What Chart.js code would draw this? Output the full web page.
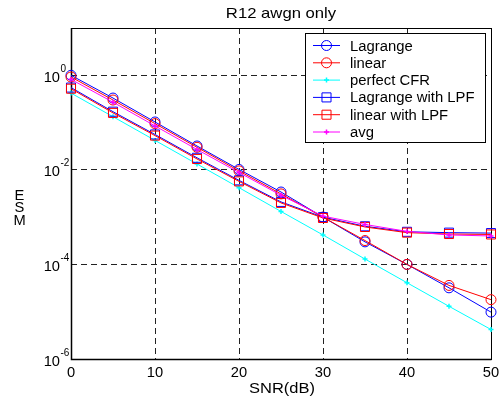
<!DOCTYPE html>
<html><head><meta charset="utf-8">
<script src="https://cdn.jsdelivr.net/npm/chart.js@4/dist/chart.umd.min.js"></script>
<style>html,body{margin:0;padding:0;background:#fff}#wrap{width:502px;height:404px;position:relative}</style>
</head><body><div id="wrap"><canvas id="c" width="502" height="404"></canvas></div>
<script>
const snr = [0, 5, 10, 15, 20, 25, 30, 35, 40, 45, 50];
const lagrange = [1.0, 0.33, 0.103, 0.032, 0.0102, 0.0034, 1.0e-3, 3.0e-4, 1.0e-4, 3.2e-5, 9.8e-6];
const linear = [0.92, 0.30, 0.095, 0.030, 0.0095, 0.0031, 1.0e-3, 3.2e-4, 1.0e-4, 3.6e-5, 1.8e-5];
const perfectCFR = [0.42, 0.133, 0.042, 0.0133, 0.0042, 0.00132, 4.2e-4, 1.3e-4, 4.1e-5, 1.3e-5, 4.2e-6];
const lagrangeLPF = [0.55, 0.17, 0.056, 0.018, 0.006, 0.0021, 1.0e-3, 6.4e-4, 4.9e-4, 4.7e-4, 4.6e-4];
const linearLPF = [0.52, 0.16, 0.053, 0.017, 0.0057, 0.0020, 9.6e-4, 6.2e-4, 4.7e-4, 4.4e-4, 4.3e-4];
const avg = [0.82, 0.27, 0.085, 0.027, 0.0088, 0.0029, 1.05e-3, 7.0e-4, 5.0e-4, 4.2e-4, 4.0e-4];
const seriesNames = ['Lagrange', 'linear', 'perfect CFR', 'Lagrange with LPF', 'linear with LPF', 'avg'];
const xTicks = [0, 10, 20, 30, 40, 50];
const yTicks = [1e-6, 1e-4, 1e-2, 1];
const yTickExp = ['-6', '-4', '-2', '0'];
const titleText = 'R12 awgn only';
const xTitle = 'SNR(dB)';
const yTitleLetters = ['E', 'S', 'M'];

const FONT = '"Liberation Sans", Arial, Helvetica, sans-serif';
const styles = [
  {color: '#0000ff', point: 'circle', r: 5},
  {color: '#ff0000', point: 'circle', r: 5},
  {color: '#00ffff', point: 'cross', r: 2.5},
  {color: '#0000ff', point: 'rect', r: 6.4},
  {color: '#ff0000', point: 'rect', r: 6.4},
  {color: '#ff00ff', point: 'cross', r: 2.5}
];
const allSeries = [lagrange, linear, perfectCFR, lagrangeLPF, linearLPF, avg];

const datasets = allSeries.map((arr, i) => ({
  label: seriesNames[i],
  data: snr.map((x, k) => ({x: x, y: arr[k]})),
  borderColor: styles[i].color,
  backgroundColor: 'rgba(0,0,0,0)',
  borderWidth: 1,
  pointStyle: styles[i].point,
  pointRadius: styles[i].r,
  pointHoverRadius: styles[i].r,
  pointBorderColor: styles[i].color,
  pointBackgroundColor: 'rgba(0,0,0,0)',
  pointBorderWidth: styles[i].point === 'cross' ? 1.5 : 1,
  tension: 0,
  clip: false,
  order: 6 - i
}));

function drawMarker(ctx, st, x, y) {
  ctx.save();
  ctx.strokeStyle = st.color;
  ctx.lineWidth = st.point === 'cross' ? 1.5 : 1;
  ctx.beginPath();
  if (st.point === 'circle') {
    ctx.arc(x, y, st.r, 0, Math.PI * 2);
  } else if (st.point === 'rect') {
    const s = Math.SQRT1_2 * st.r;
    ctx.rect(x - s, y - s, 2 * s, 2 * s);
  } else {
    ctx.moveTo(x - st.r, y); ctx.lineTo(x + st.r, y);
    ctx.moveTo(x, y - st.r); ctx.lineTo(x, y + st.r);
  }
  ctx.stroke();
  ctx.restore();
}

function text(ctx, str, x, y, size, align, sx) {
  ctx.save();
  ctx.font = size + 'px ' + FONT;
  ctx.textAlign = align;
  ctx.textBaseline = 'alphabetic';
  ctx.translate(x, y);
  ctx.scale(sx, 1);
  ctx.fillText(str, 0, 0);
  ctx.restore();
}

const decor = {
  id: 'decor',
  beforeDatasetsDraw(chart) {
    const {ctx, chartArea: a} = chart;
    ctx.save();
    ctx.strokeStyle = '#000';
    ctx.lineWidth = 1;
    ctx.strokeRect(a.left + 0.5, a.top + 0.5, a.right - a.left, a.bottom - a.top);
    ctx.lineWidth = 1.5;
    ctx.beginPath();
    ctx.moveTo(a.left + 0.5, a.top);
    ctx.lineTo(a.left + 0.5, a.bottom + 0.5);
    ctx.lineTo(a.right + 0.5, a.bottom + 0.5);
    ctx.stroke();
    ctx.restore();
  },
  afterDraw(chart) {
    const {ctx, chartArea: a, scales} = chart;
    ctx.save();
    ctx.fillStyle = '#000';
    const cx = (a.left + a.right) / 2;
    text(ctx, titleText, cx, 17.5, 14.5, 'center', 1.15);
    xTicks.forEach(v => {
      text(ctx, String(v), scales.x.getPixelForValue(v), 376.5, 14, 'center', 1.05);
    });
    text(ctx, xTitle, cx + 1, 392.5, 15, 'center', 1.1);
    yTicks.forEach((v, i) => {
      const py = scales.y.getPixelForValue(v);
      text(ctx, '10', 60, py + 6.5, 14, 'right', 1.05);
      text(ctx, yTickExp[i], 60.5, py - 3.5, 10, 'left', 1.0);
    });
    yTitleLetters.forEach((ch, i) => {
      text(ctx, ch, 19.5, 199.5 + i * 12.5, 14, 'center', 1.05);
    });
    // legend
    const L = 305, T = 33, R = 485, B = 142;
    ctx.fillStyle = '#fff';
    ctx.fillRect(L, T, R - L, B - T);
    ctx.strokeStyle = '#000';
    ctx.lineWidth = 1;
    ctx.strokeRect(L + 0.5, T + 0.5, R - L, B - T);
    seriesNames.forEach((name, i) => {
      const y = 45.5 + i * 17.3;
      const st = styles[i];
      ctx.strokeStyle = st.color;
      ctx.lineWidth = 1;
      ctx.beginPath();
      ctx.moveTo(313, y); ctx.lineTo(340, y);
      ctx.stroke();
      drawMarker(ctx, st, 326.5, y);
      ctx.fillStyle = '#000';
      text(ctx, name, 350, y + 5, 14, 'left', 1.06);
    });
    ctx.restore();
  }
};

new Chart(document.getElementById('c'), {
  type: 'line',
  data: {datasets},
  options: {
    responsive: false,
    animation: false,
    devicePixelRatio: 1,
    layout: {padding: {left: 0, right: 11, top: 28, bottom: 0}},
    plugins: {legend: {display: false}, title: {display: false}, tooltip: {enabled: false}},
    scales: {
      x: {
        type: 'linear', min: 0, max: 50,
        afterBuildTicks: s => { s.ticks = xTicks.map(v => ({value: v})); },
        afterFit: s => { s.height = 45; },
        ticks: {display: false},
        grid: {color: '#222', lineWidth: 1, drawTicks: false},
        border: {display: false, dash: [6, 4]}
      },
      y: {
        type: 'logarithmic', min: 1e-6, max: 10,
        afterBuildTicks: s => { s.ticks = yTicks.map(v => ({value: v})); },
        afterFit: s => { s.width = 71; },
        ticks: {display: false},
        grid: {color: '#222', lineWidth: 1, drawTicks: false},
        border: {display: false, dash: [6, 4]}
      }
    }
  },
  plugins: [decor]
});
</script>
</body></html>
